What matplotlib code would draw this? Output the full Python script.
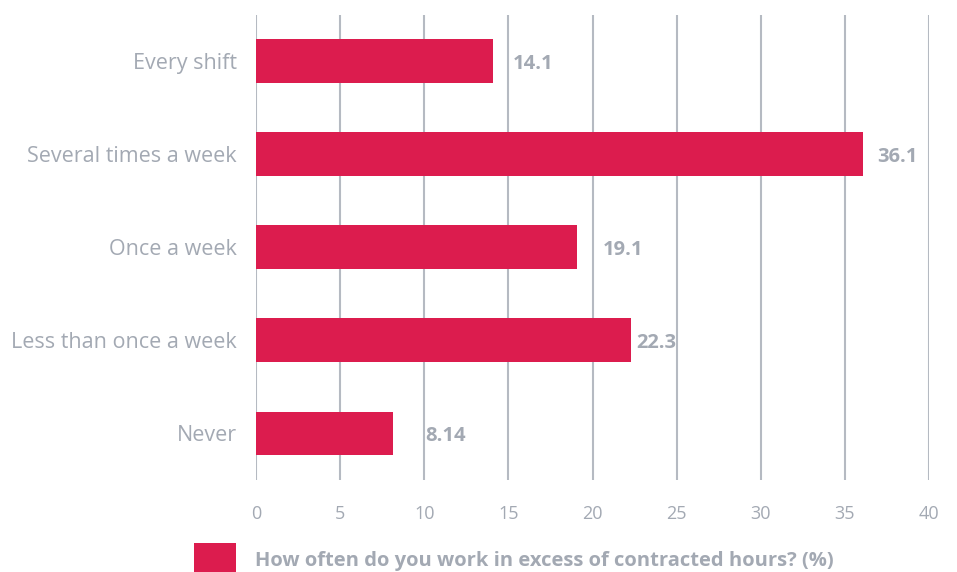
import matplotlib.pyplot as plt
from matplotlib.ticker import MultipleLocator

plt.rcParams["font.family"] = ["Open Sans", "DejaVu Sans"]

categories = ["Every shift", "Several times a week", "Once a week",
              "Less than once a week", "Never"]
values = [14.1, 36.1, 19.1, 22.3, 8.14]
value_labels = ["14.1", "36.1", "19.1", "22.3", "8.14"]
series_name = "How often do you work in excess of contracted hours? (%)"

BAR_COLOR = "#DC1C4E"
TEXT_COLOR = "#A3A9B3"
GRID_COLOR = "#B5BAC2"

# how far each value label sits past its bar end (points)
label_pad = [14, 10, 18, 4, 23]

fig = plt.figure(figsize=(9.57, 5.72), dpi=100)
ax = fig.add_axes([256 / 957, 92 / 572, 673 / 957, 465.5 / 572])

ypos = list(range(len(categories)))
bars = ax.barh(ypos, values, height=0.47, color=BAR_COLOR, label=series_name,
               zorder=3)

ax.set_xlim(0, 40)
ax.set_ylim(len(categories) - 0.5, -0.5)
ax.xaxis.set_major_locator(MultipleLocator(5))
ax.set_yticks(ypos)
ax.set_yticklabels(categories)

ax.grid(axis="x", color=GRID_COLOR, linewidth=1.5, zorder=0)
ax.grid(axis="y", visible=False)
for spine in ax.spines.values():
    spine.set_visible(False)

ax.tick_params(axis="x", length=0, pad=18, labelsize=13, labelcolor=TEXT_COLOR)
ax.tick_params(axis="y", length=0, pad=14, labelsize=15.5, labelcolor=TEXT_COLOR)

for i, (v, txt) in enumerate(zip(values, value_labels)):
    ax.annotate(txt, (v, i), xytext=(label_pad[i], -2), textcoords="offset points",
                ha="left", va="center", fontsize=14.5, fontweight="bold",
                color=TEXT_COLOR)

fig.legend(handles=[bars], labels=[series_name], loc="center left",
           bbox_to_anchor=(176 / 957, 12 / 572), frameon=False,
           handlelength=2.1, handleheight=2.2,
           handletextpad=0.9, labelcolor=TEXT_COLOR,
           prop={"weight": "bold", "size": 14.5})

fig.savefig("out.png", dpi=100)
